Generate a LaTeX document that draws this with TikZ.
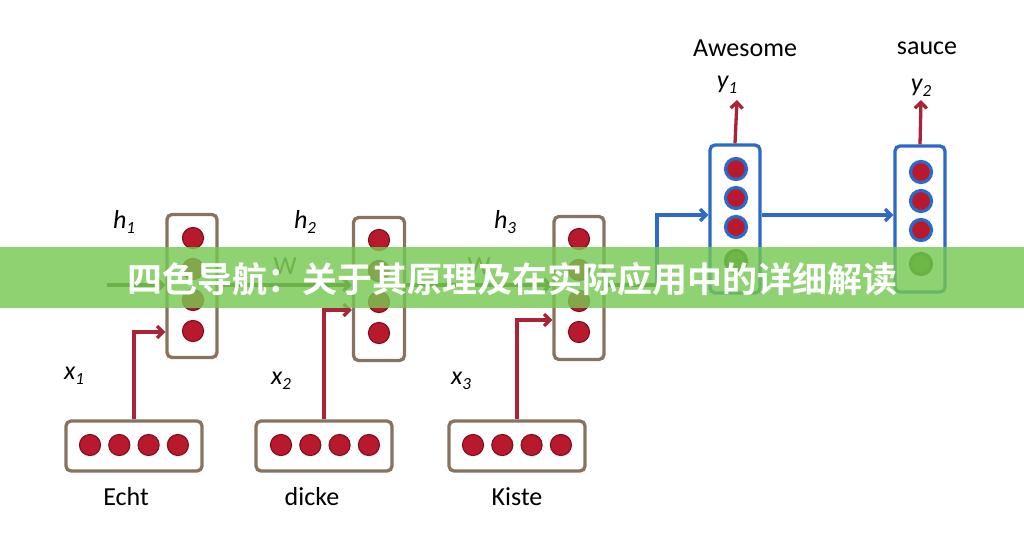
\documentclass[tikz,border=0pt]{standalone}
\usepackage{fontspec}
\setmainfont{Carlito}
\newfontfamily\cjk{Noto Sans CJK SC}[BoldFont={* Bold}]
\usetikzlibrary{arrows.meta}
\definecolor{boxc}{RGB}{135,115,95}
\definecolor{dotr}{RGB}{185,25,45}
\definecolor{dotb}{RGB}{45,105,200}
\definecolor{arr}{RGB}{170,35,55}
\definecolor{olv}{RGB}{70,80,20}
\definecolor{grn}{RGB}{70,110,20}
\definecolor{ban}{RGB}{118,200,82}
\newcommand{\sbs}[1]{\raisebox{-5pt}{\fontsize{17}{17}\selectfont #1}}
\begin{document}
\begin{tikzpicture}[x=1pt,y=-1pt,
  box/.style={draw=boxc,line width=3.3pt,rounded corners=5pt},
  dbox/.style={draw=dotb,line width=3.3pt,rounded corners=5pt},
  rd/.style={circle,fill=dotr,draw=dotr!70!black,line width=1.2pt,minimum size=21pt,inner sep=0},
  bd/.style={circle,fill=dotr,draw=dotb,line width=3.2pt,minimum size=21pt,inner sep=0},
  gd/.style={circle,fill=grn,draw=grn!70!black,line width=3.2pt,minimum size=21pt,inner sep=0},
  ra/.style={draw=arr,line width=3.3pt,-{Straight Barb[length=6pt,width=12pt]}},
  ba/.style={draw=dotb,line width=3.3pt,-{Straight Barb[length=6pt,width=12pt]}},
  oa/.style={draw=olv,line width=3.3pt,-{Straight Barb[length=6pt,width=12pt]}},
  lab/.style={font=\fontsize{26}{30}\selectfont},
  ilab/.style={font=\fontsize{26}{30}\selectfont\itshape}]
\useasboundingbox (0,0) rectangle (1024,557);
% encoder hidden boxes
\node[box,minimum width=50pt,minimum height=143pt] (H1) at (192,286) {};
\node[box,minimum width=51pt,minimum height=143pt] (H2) at (379,289) {};
\node[box,minimum width=50pt,minimum height=143pt] (H3) at (579,288) {};
\foreach \n/\x/\y in {1/193/238,2/379/240,3/579/239}{
  \node[rd] (h\n a) at (\x,\y) {};
  \node[rd] (h\n b) at (\x,\y+31) {};
  \node[rd] (h\n c) at (\x,\y+62) {};
  \node[rd] (h\n d) at (\x,\y+93) {};
}
% input boxes
\node[box,minimum width=136pt,minimum height=50pt] (X1) at (134,446) {};
\node[box,minimum width=136pt,minimum height=50pt] (X2) at (324,446) {};
\node[box,minimum width=136pt,minimum height=50pt] (X3) at (517,446) {};
\foreach \n/\x in {1/90,2/281,3/473}{
  \foreach \k in {0,1,2,3}{\node[rd] (x\n\k) at (\x+29.3*\k,445) {};}
}
\node[lab] (t1) at (126,497) {Echt};
\node[lab] (t2) at (312,497) {dicke};
\node[lab] (t3) at (517,497) {Kiste};
\node[ilab] (lx1) at (74,376) {x\sbs{1}};
\node[ilab] (lx2) at (281,381) {x\sbs{2}};
\node[ilab] (lx3) at (461,381) {x\sbs{3}};
\node[ilab] (lh1) at (124,222) {h\sbs{1}};
\node[ilab] (lh2) at (305,222) {h\sbs{2}};
\node[ilab] (lh3) at (505,222) {h\sbs{3}};
% input arrows
\draw[ra] (X1.north) |- (H1.west |- 0,332);
\draw[ra] (X2.north) |- (H2.west |- 0,310);
\draw[ra] (X3.north) |- (H3.west |- 0,320);
% recurrent
\coordinate (s0) at (107,285);
\draw[oa] (s0) -- (H1.west |- s0);
\draw[oa] (H1.east |- s0) -- (H2.west |- s0) node[midway,above=6pt,olv,lab] (w1) {W};
\draw[oa] (H2.east |- s0) -- (H3.west |- s0) node[midway,above=6pt,olv,lab] (w2) {W};
\coordinate (c1) at (657,285);
\draw[olv,line width=3.3pt] (H3.east |- s0) -- (c1);
% decoder
\node[dbox,minimum width=50pt,minimum height=148pt] (D1) at (735,219) {};
\node[dbox,minimum width=50pt,minimum height=146pt] (D2) at (920,219) {};
\foreach \n/\x/\y in {1/736/169,2/921/172}{
  \node[bd] (d\n a) at (\x,\y) {};
  \node[bd] (d\n b) at (\x,\y+29) {};
  \node[bd] (d\n c) at (\x,\y+58) {};
  \node[gd] (d\n d) at (\x,\y+92) {};
}
\draw[ba] (c1) |- (D1.west |- 0,215);
\draw[ba] (D1.east |- 0,215) -- (D2.west |- 0,215);
\coordinate (o1) at (737,100);
\coordinate (o2) at (921,100);
\draw[ra] (D1.north) -- (o1);
\draw[ra] (D2.north) -- (o2);
\node[ilab] (ly1) at (727,85) {y\sbs{1}};
\node[ilab] (ly2) at (921,88) {y\sbs{2}};
\node[lab] (aw) at (745,48) {Awesome};
\node[lab] (sc) at (927,48) {sauce};
% banner
\fill[ban,opacity=0.82] (0,247) rectangle (1024,308);
\node[text=white,font=\cjk\bfseries\fontsize{35}{38}\selectfont] (ttl) at (512,279) {四色导航：关于其原理及在实际应用中的详细解读};
\end{tikzpicture}
\end{document}
